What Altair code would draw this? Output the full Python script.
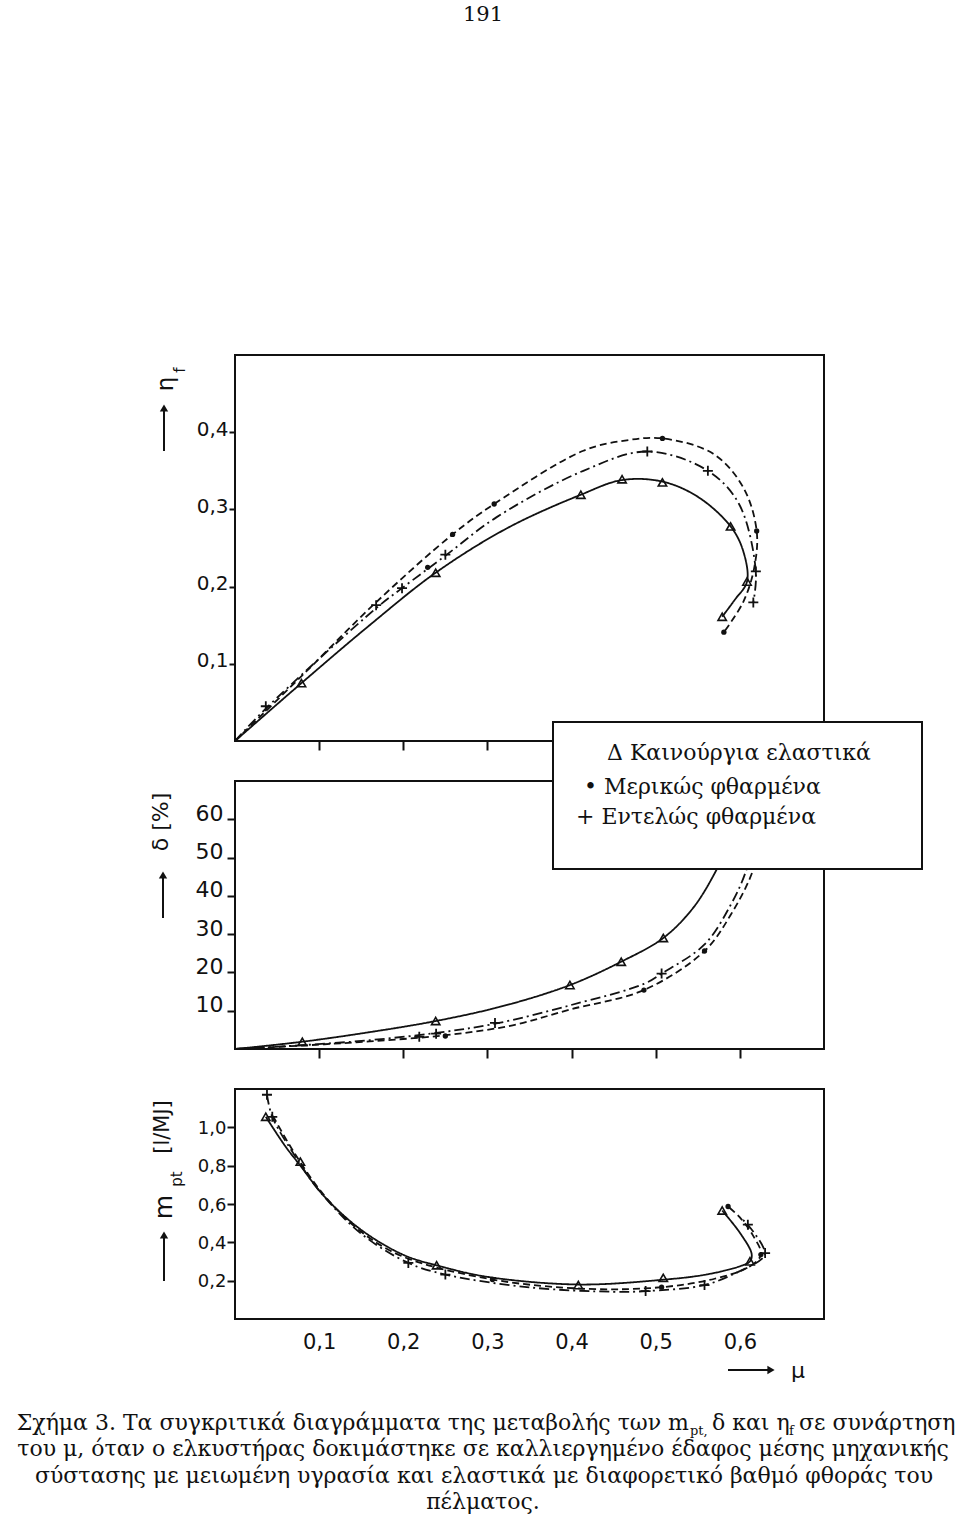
import altair as alt
import pandas as pd

# ---------------- data ----------------
mu_ticks = [0.1, 0.2, 0.3, 0.4, 0.5, 0.6]

# Panel 1: eta_f vs mu  (curve traces)
eta_new_mu = [0, 0.079, 0.16, 0.2385, 0.324, 0.411, 0.460, 0.508, 0.5505, 0.589, 0.604, 0.6085, 0.594, 0.579]
eta_new = [0, 0.075, 0.150, 0.218, 0.276, 0.319, 0.338, 0.336, 0.316, 0.278, 0.246, 0.2065, 0.183, 0.161]
eta_part_mu = [0, 0.08, 0.168, 0.2586, 0.308, 0.414, 0.4655, 0.508, 0.5684, 0.604, 0.620, 0.617, 0.604, 0.581]
eta_part = [0, 0.085, 0.180, 0.2676, 0.307, 0.376, 0.3895, 0.392, 0.372, 0.3285, 0.272, 0.224, 0.180, 0.141]
eta_full_mu = [0, 0.0366, 0.1677, 0.1985, 0.250, 0.311, 0.414, 0.490, 0.562, 0.599, 0.619, 0.616]
eta_full = [0, 0.042, 0.172, 0.198, 0.240, 0.290, 0.350, 0.375, 0.350, 0.307, 0.2196, 0.1795]
# Panel 1 measured points
eta_tri_mu = [0.079, 0.2385, 0.411, 0.460, 0.508, 0.589, 0.6085, 0.579]
eta_tri = [0.075, 0.218, 0.319, 0.339, 0.335, 0.278, 0.2065, 0.161]
eta_dot_mu = [0.229, 0.2586, 0.308, 0.508, 0.620, 0.581]
eta_dot = [0.225, 0.2676, 0.307, 0.392, 0.272, 0.141]
eta_plus_mu = [0.0366, 0.1677, 0.1985, 0.250, 0.490, 0.562, 0.619, 0.616]
eta_plus = [0.045, 0.176, 0.198, 0.2414, 0.375, 0.350, 0.2196, 0.1795]

# Panel 2: delta [%] vs mu
d_new_mu = [0, 0.080, 0.16, 0.2385, 0.32, 0.398, 0.459, 0.509, 0.545, 0.573, 0.592, 0.606]
d_new = [0, 1.9, 4.4, 7.3, 11.3, 16.7, 22.8, 29.0, 37.0, 47.1, 56, 65]
d_part_mu = [0, 0.08, 0.16, 0.250, 0.33, 0.398, 0.486, 0.558, 0.589, 0.615, 0.628]
d_part = [0, 0.9, 2.0, 3.6, 6.2, 10.3, 15.4, 25.6, 35.0, 46.3, 58]
d_full_mu = [0, 0.08, 0.16, 0.239, 0.309, 0.398, 0.486, 0.507, 0.558, 0.589, 0.607, 0.62]
d_full = [0, 1.0, 2.3, 4.2, 6.6, 11.4, 17.0, 19.7, 27.3, 37.6, 46.3, 58]
d_tri_mu = [0.080, 0.2385, 0.398, 0.459, 0.509]
d_tri = [1.9, 7.3, 16.7, 22.8, 29.0]
d_dot_mu = [0.250, 0.486, 0.558]
d_dot = [3.4, 15.4, 25.6]
d_plus_mu = [0.219, 0.239, 0.309, 0.507]
d_plus = [3.2, 4.0, 6.8, 19.7]

# Panel 3: m_pt [l/MJ] vs mu
m_new_mu = [0.0366, 0.06, 0.0777, 0.106, 0.15, 0.2, 0.2396, 0.3, 0.408, 0.509, 0.56, 0.60, 0.612, 0.614, 0.60, 0.579]
m_new = [1.055, 0.90, 0.80, 0.64, 0.465, 0.335, 0.28, 0.22, 0.18, 0.205, 0.232, 0.275, 0.301, 0.34, 0.45, 0.566]
m_part_mu = [0.045, 0.07, 0.106, 0.15, 0.2, 0.306, 0.42, 0.507, 0.57, 0.61, 0.625, 0.615, 0.600, 0.586]
m_part = [1.06, 0.87, 0.645, 0.455, 0.325, 0.206, 0.157, 0.166, 0.21, 0.27, 0.336, 0.44, 0.53, 0.587]
m_full_mu = [0.038, 0.0443, 0.07, 0.1, 0.15, 0.206, 0.25, 0.35, 0.45, 0.488, 0.558, 0.60, 0.625, 0.630, 0.6095, 0.60]
m_full = [1.17, 1.055, 0.86, 0.67, 0.445, 0.2925, 0.232, 0.165, 0.142, 0.1455, 0.177, 0.25, 0.31, 0.344, 0.492, 0.53]
m_tri_mu = [0.0366, 0.0777, 0.2396, 0.408, 0.509, 0.579, 0.612]
m_tri = [1.055, 0.821, 0.2805, 0.177, 0.2147, 0.566, 0.301]
m_dot_mu = [0.306, 0.507, 0.625, 0.586]
m_dot = [0.206, 0.166, 0.336, 0.587]
m_plus_mu = [0.038, 0.0443, 0.206, 0.250, 0.488, 0.558, 0.6095, 0.630]
m_plus = [1.170, 1.055, 0.2925, 0.232, 0.1455, 0.177, 0.492, 0.344]

legend_lines = ["Δ Καινούργια ελαστικά", "• Μερικώς φθαρμένα", "+ Εντελώς φθαρμένα"]
caption_1 = ["Σχήμα 3. Τα συγκριτικά διαγράμματα της μεταβολής των m", "pt,", "δ και η", "f", "σε συνάρτηση"]
caption_rest = ["του μ, όταν ο ελκυστήρας δοκιμάστηκε σε καλλιεργημένο έδαφος μέσης μηχανικής",
                "σύστασης με μειωμένη υγρασία και ελαστικά με διαφορετικό βαθμό φθοράς του",
                "πέλματος."]
page_number = "191"

# ---------------- helpers ----------------
SANS = "DejaVu Sans"
SERIF = "DejaVu Serif"
INK = "#111111"
PLUS_PATH = "M-1,0L1,0M0,-1L0,1"
XSC = alt.Scale(domain=[0, 0.7], nice=False, zero=False)
ONE = pd.DataFrame({"a": [0]})


def df(mu, v):
    return pd.DataFrame({"mu": mu, "v": v, "i": list(range(len(mu)))})


def enc_xy(xaxis, yscale, yaxis):
    return dict(x=alt.X("mu:Q", scale=XSC, axis=xaxis),
                y=alt.Y("v:Q", scale=yscale, axis=yaxis))


def txt(s, x, y, size, font=SANS, angle=0, align="center", baseline="middle"):
    return alt.Chart(pd.DataFrame({"t": [s]})).mark_text(
        font=font, fontSize=size, angle=angle, align=align, baseline=baseline, color=INK
    ).encode(x=alt.value(x), y=alt.value(y), text="t:N")


def v_arrow(x, y_tail, y_head):
    shaft = alt.Chart(ONE).mark_rule(color=INK, strokeWidth=2).encode(
        x=alt.value(x), y=alt.value(y_tail), y2=alt.value(y_head + 4))
    head = alt.Chart(ONE).mark_point(shape="triangle-up", filled=True, color=INK, size=70, opacity=1).encode(
        x=alt.value(x), y=alt.value(y_head + 4))
    return [shaft, head]


def h_arrow(x_tail, x_head, y):
    shaft = alt.Chart(ONE).mark_rule(color=INK, strokeWidth=2).encode(
        x=alt.value(x_tail), x2=alt.value(x_head - 4), y=alt.value(y))
    head = alt.Chart(ONE).mark_point(shape="triangle-right", filled=True, color=INK, size=70, opacity=1).encode(
        x=alt.value(x_head - 4), y=alt.value(y))
    return [shaft, head]


def series_layers(xaxis, yscale, yaxis, lines, tri, dot, plus):
    e = enc_xy(xaxis, yscale, yaxis)
    out = []
    dashes = [[1, 0], [7, 4], [10, 4, 2, 4]]
    for (mu, v), dash in zip(lines, dashes):
        out.append(alt.Chart(df(mu, v)).mark_line(
            color=INK, strokeWidth=1.8, strokeDash=dash, interpolate="catmull-rom"
        ).encode(order="i:Q", **e))
    out.append(alt.Chart(df(*tri)).mark_point(
        shape="triangle-up", filled=False, color=INK, strokeWidth=1.6, size=70, opacity=1).encode(**e))
    out.append(alt.Chart(df(*dot)).mark_point(
        shape="circle", filled=True, color=INK, size=28, opacity=1).encode(**e))
    out.append(alt.Chart(df(*plus)).mark_point(
        shape=PLUS_PATH, filled=False, color=INK, strokeWidth=1.8, size=100, opacity=1).encode(**e))
    return out


COMMA = "replace(format(datum.value, '.1f'), '.', ',')"

x_ticks_only = alt.Axis(values=mu_ticks, labels=False, ticks=True, tickSize=9, tickWidth=2,
                        tickColor=INK, domain=False, grid=False, title=None)
x_labels = alt.Axis(values=mu_ticks, labelExpr=COMMA, ticks=False, labelPadding=12,
                    labelFont=SANS, labelFontSize=21, labelColor=INK, domain=False, grid=False, title=None)

# ---------------- panel 1: eta_f ----------------
W = 589
H1, H2, H3 = 386, 268, 230

y1 = alt.Axis(values=[0.1, 0.2, 0.3, 0.4], labelExpr=COMMA, tickSize=6, tickWidth=2, tickColor=INK,
              labelPadding=1, labelFont=SANS, labelFontSize=20, labelColor=INK,
              labelBaseline="alphabetic", labelOffset=3, domain=False, grid=False, title=None)
p1_layers = series_layers(x_ticks_only, alt.Scale(domain=[0, 0.5], nice=False), y1,
                          [(eta_new_mu, eta_new), (eta_part_mu, eta_part), (eta_full_mu, eta_full)],
                          (eta_tri_mu, eta_tri), (eta_dot_mu, eta_dot), (eta_plus_mu, eta_plus))
anchor = alt.Chart(ONE).mark_rect(color="white").encode(
    x=alt.value(-234), x2=alt.value(-233), y=alt.value(-354), y2=alt.value(-353))
p1_layers += [anchor,
              txt(page_number, 248, -334, 21, font=SERIF, baseline="alphabetic"),
              txt("η", -69, 29, 23, angle=270),
              txt("f", -55, 15, 15, angle=270)]
p1_layers += v_arrow(-71, 96, 49)
panel1 = alt.layer(*p1_layers).properties(width=W, height=H1)

# ---------------- panel 2: delta ----------------
y2 = alt.Axis(values=[10, 20, 30, 40, 50, 60], format="d", tickSize=8, tickWidth=2, tickColor=INK,
              labelPadding=4, labelFont=SANS, labelFontSize=22, labelColor=INK,
              labelBaseline="alphabetic", labelOffset=1, domain=False, grid=False, title=None)
p2_layers = series_layers(x_ticks_only, alt.Scale(domain=[0, 70], nice=False), y2,
                          [(d_new_mu, d_new), (d_part_mu, d_part), (d_full_mu, d_full)],
                          (d_tri_mu, d_tri), (d_dot_mu, d_dot), (d_plus_mu, d_plus))
legend_box = alt.Chart(ONE).mark_rect(fill="white", stroke=INK, strokeWidth=2).encode(
    x=alt.value(318), x2=alt.value(687), y=alt.value(-59), y2=alt.value(88))
p2_layers += [legend_box,
              txt(legend_lines[0], 372, -21, 22, font=SERIF, align="left", baseline="alphabetic"),
              txt(legend_lines[1], 349, 13, 22, font=SERIF, align="left", baseline="alphabetic"),
              txt(legend_lines[2], 341, 43, 22, font=SERIF, align="left", baseline="alphabetic"),
              txt("δ [%]", -74, 41, 22, angle=270)]
p2_layers += v_arrow(-72, 137, 90)
panel2 = alt.layer(*p2_layers).properties(width=W, height=H2)

# ---------------- panel 3: m_pt ----------------
y3 = alt.Axis(values=[0.2, 0.4, 0.6, 0.8, 1.0], labelExpr=COMMA, tickSize=8, tickWidth=2, tickColor=INK,
              labelPadding=1, labelFont=SANS, labelFontSize=18, labelColor=INK,
              labelBaseline="middle", labelOffset=1, domain=False, grid=False, title=None)
p3_layers = series_layers(x_labels, alt.Scale(domain=[0, 1.2], nice=False), y3,
                          [(m_new_mu, m_new), (m_part_mu, m_part), (m_full_mu, m_full)],
                          (m_tri_mu, m_tri), (m_dot_mu, m_dot), (m_plus_mu, m_plus))
p3_layers += [txt("[l/MJ]", -72, 38, 21, angle=270),
              txt("pt", -58, 90, 15, angle=270),
              txt("m", -71, 118, 25, angle=270),
              txt("μ", 563, 282, 22)]
p3_layers += v_arrow(-71, 192, 142)
p3_layers += h_arrow(493, 540, 281)
# caption (x relative to the bottom panel's plot origin)
p3_layers += [txt(caption_1[0], 454, 341, 22, font=SERIF, align="right", baseline="alphabetic"),
              txt(caption_1[1], 455, 346, 13, font=SERIF, align="left", baseline="alphabetic"),
              txt(caption_1[2], 477, 341, 22, font=SERIF, align="left", baseline="alphabetic"),
              txt(caption_1[3], 554, 346, 13, font=SERIF, align="left", baseline="alphabetic"),
              txt(caption_1[4], 564, 341, 22, font=SERIF, align="left", baseline="alphabetic"),
              txt(caption_rest[0], 248, 367, 22, font=SERIF, baseline="alphabetic"),
              txt(caption_rest[1], 249, 394, 22, font=SERIF, baseline="alphabetic"),
              txt(caption_rest[2], 248, 420, 22, font=SERIF, baseline="alphabetic")]
panel3 = alt.layer(*p3_layers).properties(width=W, height=H3)

chart = alt.vconcat(panel1, panel2, panel3, spacing=40, bounds="flush").properties(
    padding=0, background="white"
).configure_view(stroke=INK, strokeWidth=2)

chart.save("out.html", embed_options={"renderer": "svg", "actions": False})
